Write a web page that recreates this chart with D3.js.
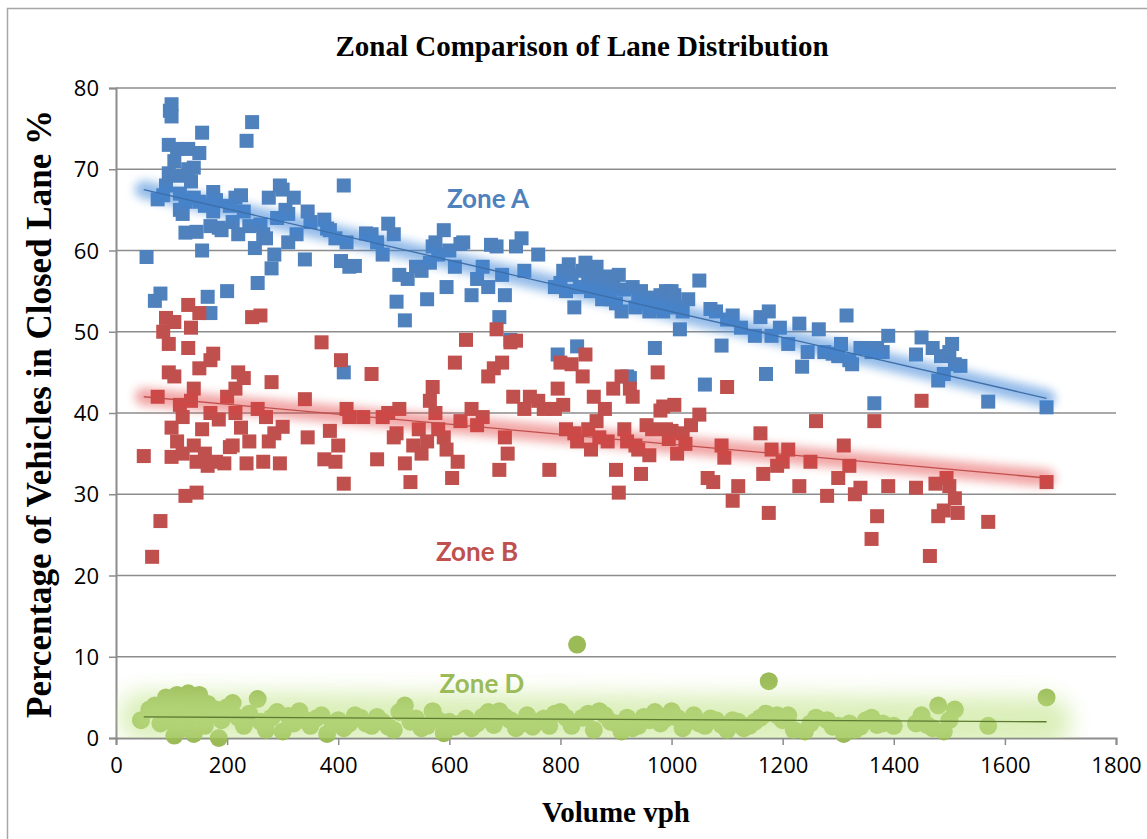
<!DOCTYPE html>
<html>
<head>
<meta charset="utf-8">
<script src="https://cdn.jsdelivr.net/npm/d3@7"></script>
<style>
  body { margin: 0; background: #fff; }
  svg { display: block; }
</style>
</head>
<body>
<svg width="1147" height="839"></svg>
<script>
const W = 1147, H = 839;
const margin = {left: 116, right: 31, top: 88, bottom: 101};

const xTicks = [0, 200, 400, 600, 800, 1000, 1200, 1400, 1600, 1800];
const yTicks = [0, 10, 20, 30, 40, 50, 60, 70, 80];

// Zone A (volume, %)
const zoneA = [
  [55,59.2],[70,53.8],[80,54.7],[75,66.3],[85,66.8],[90,68],[95,69.5],[95,73],[97,77.2],[100,78],[100,76.5],
  [105,71],[110,72.5],[110,69.2],[115,67],[115,65],[120,64.5],[125,66],[125,62.2],[130,70],[130,72.5],
  [135,68.5],[140,70.2],[140,66.5],[145,62.3],[150,72],[150,66],[155,74.5],[155,60],[160,65.5],[165,54.3],
  [170,52.3],[170,63],[175,67.2],[175,64.8],[180,66.2],[185,62.8],[190,62.5],[200,55],[205,65.5],[210,63.5],
  [215,66.5],[220,62],[225,66.8],[230,64.8],[235,73.5],[240,63],[245,75.8],[250,60.3],[255,56],[260,63.2],
  [265,62],[270,61.5],[275,66.5],[280,57.8],[285,59.5],[290,64],[295,68],[300,67.5],[305,65],[310,64.5],
  [310,61],[320,66.5],[325,62],[340,58.9],[345,64.8],[350,63.5],[375,63.8],[380,62.7],[385,62.5],[395,61.5],
  [405,58.7],[410,68],[410,45],[415,61],[420,58],[430,58.1],[450,62.1],[460,62],[470,61],[480,59.5],
  [490,63.3],[500,62],[505,53.7],[510,57],[520,51.4],[525,56.5],[540,58],[550,57.5],[560,54],[565,58.5],
  [570,60.5],[575,61],[580,59.5],[590,62.5],[595,55.5],[600,60],[610,58],[620,60.8],[625,61],[640,54.5],
  [650,56.5],[660,58],[670,55.5],[675,60.7],[685,60.5],[690,51.8],[695,57],[700,54.5],[710,49],[720,60.5],
  [730,61.5],[735,57.5],[760,59.5],[790,55.5],[795,47.2],[800,56],[805,57.5],[810,55],[815,58.3],[820,57],
  [825,53],[830,48.2],[835,55.5],[840,57.5],[845,58.5],[850,56.5],[855,55],[860,57.5],[865,58],[870,56.5],
  [875,54],[880,55.5],[885,56.8],[890,54],[895,55.5],[900,53.5],[905,57],[910,52.5],[915,55.2],[920,44.5],
  [925,44.3],[930,55.5],[935,53],[940,54.5],[945,55],[950,53.5],[955,54],[960,52.5],[965,54.2],[970,48],
  [975,53],[980,54.5],[985,52.5],[990,55],[995,53.5],[1000,55],[1005,54.5],[1010,53],[1015,50.3],[1020,52.5],
  [1030,54],[1050,56.3],[1060,43.5],[1070,52.8],[1080,52.5],[1090,48.3],[1100,51.5],[1110,52],[1125,50.5],
  [1150,49.5],[1160,51.8],[1170,44.8],[1175,52.5],[1180,49.5],[1195,50.5],[1210,48.5],[1230,51],[1235,45.7],
  [1245,47.5],[1265,50.3],[1275,47.5],[1290,47.3],[1300,47],[1305,48.5],[1315,52],[1320,46.5],[1325,46],
  [1340,48],[1350,48],[1360,47.5],[1365,41.2],[1370,48],[1380,47.5],[1390,49.5],[1440,47.2],[1450,49.3],
  [1470,48],[1480,44],[1485,47],[1490,44.8],[1500,47.5],[1505,48.5],[1510,46],[1520,45.8],[1570,41.4],[1675,40.7]
];

// Zone B (volume, %)
const zoneB = [
  [50,34.7],[65,22.3],[75,42],[80,26.7],[85,50],[90,51.7],[95,45],[95,48.5],[100,34.6],[100,38.2],[105,44.5],
  [105,51.2],[110,36.5],[115,41],[120,39.5],[120,35],[125,29.8],[130,53.3],[130,48],[135,50.5],[135,41.5],
  [140,43],[140,36],[145,30.2],[145,34],[150,52.3],[150,45.5],[155,38],[160,35],[165,33.5],[170,46.5],
  [170,40],[175,47.3],[180,34],[185,39.2],[195,33.8],[200,42],[205,35.8],[210,36],[215,43],[215,40],
  [220,45],[225,38.2],[230,44.3],[235,33.8],[240,36.5],[245,51.8],[255,40.5],[260,52],[265,34],[270,39.5],
  [275,36.5],[280,43.8],[285,37.5],[295,33.8],[300,38.3],[340,41.7],[345,37],[370,48.7],[375,34.3],
  [385,37.8],[395,34],[400,36],[405,46.5],[410,31.3],[415,40.5],[420,39.5],[445,39.5],[460,44.8],[470,34.3],
  [480,39.5],[490,40],[500,37],[505,37.5],[510,40.5],[520,33.8],[530,31.5],[535,36],[545,38],[550,35],
  [560,36.5],[565,41.5],[570,43.2],[575,40],[580,38],[590,37],[595,35.5],[605,32],[610,46.2],[615,34],
  [620,39],[630,49],[640,40.5],[650,38.5],[660,39.5],[670,44.5],[680,45.5],[685,50.3],[690,33],[695,46.2],
  [700,37],[705,35],[710,48.7],[715,42],[720,48.9],[735,40.5],[745,42],[760,41.5],[770,40.5],[780,33],
  [790,40.5],[795,43],[800,46.2],[805,41],[810,38],[820,46],[825,37.5],[830,36.5],[840,44.5],[845,47.2],
  [850,38],[855,35.5],[860,42],[865,39],[870,37],[880,40.5],[885,36.5],[895,43],[900,33],[905,30.2],
  [910,44.5],[915,38],[920,36.5],[925,43],[930,42],[935,36],[940,35.5],[945,32.5],[955,38.5],[960,34.8],
  [965,38],[975,45],[980,40.3],[985,40.8],[990,38],[995,36.8],[1000,37.8],[1005,41],[1010,35],[1020,37.5],
  [1025,36.2],[1035,38.5],[1050,39.8],[1065,32],[1075,31.5],[1090,36],[1095,34.5],[1100,43.2],[1110,29.2],
  [1120,31],[1160,37.5],[1165,32.5],[1175,27.7],[1180,35.5],[1190,33.5],[1200,34],[1210,35.5],[1230,31],
  [1250,34],[1260,39],[1280,29.8],[1300,32],[1310,36],[1320,33.5],[1330,30],[1340,30.8],[1360,24.5],
  [1365,39],[1370,27.3],[1390,31],[1440,30.8],[1450,41.5],[1465,22.4],[1475,31.3],[1480,27.3],[1490,28],
  [1495,32],[1500,31],[1510,29.5],[1515,27.7],[1570,26.6],[1675,31.5]
];

// Zone D (volume, %)
const zoneD = [
  [45,2.2],[60,3.5],[70,4],[80,1.8],[85,3],[90,5],[95,4.2],[100,2],[105,0.3],[110,5.3],[115,3],[120,1.2],
  [125,4.5],[130,5.5],[135,2.5],[140,0.5],[145,4],[150,5.3],[155,3.2],[160,1.5],[165,4.2],[170,2.8],
  [180,3.5],[185,0],[190,2.2],[200,3.8],[210,4.3],[220,2.5],[230,1.5],[240,3],[255,4.8],[260,2],[270,1],
  [280,2.5],[290,3.2],[300,0.8],[310,2.7],[320,1.8],[330,3.3],[340,2.2],[350,1.5],[360,2.4],[370,2.8],
  [380,0.5],[390,1.8],[400,2.2],[410,1.2],[420,1.8],[430,2.8],[440,2.5],[450,1.8],[460,1.5],[470,2.6],
  [480,2],[490,1.4],[500,1],[510,3.2],[520,4],[530,2],[540,2.4],[550,1.2],[560,1.5],[570,3.3],[580,2.2],
  [590,0.6],[600,2],[610,1.4],[620,1.8],[630,2.4],[640,1.2],[650,1.8],[660,2.6],[670,3.2],[680,1.6],
  [690,3.3],[700,2.6],[710,2.2],[720,1.2],[730,1.8],[740,2.8],[750,1.4],[760,2],[770,2.4],[780,1.5],
  [790,3],[800,3.2],[810,2.5],[820,1.5],[830,11.5],[840,2.5],[850,3],[860,1],[870,3.3],[880,2.8],[890,2],
  [900,1.8],[910,0.8],[920,2.5],[930,1.2],[940,1.5],[950,2.6],[960,2.2],[970,3.2],[980,1.8],[990,2.4],
  [1000,3.3],[1010,2.5],[1020,1.2],[1030,2],[1040,2.8],[1050,1.8],[1060,1.5],[1070,2.4],[1080,2.2],
  [1090,1.6],[1100,1],[1110,2.2],[1120,2],[1130,1.2],[1140,1.5],[1150,2],[1160,2.5],[1170,3],[1175,7],
  [1190,2.8],[1200,2.2],[1210,2.8],[1220,1],[1240,0.8],[1250,1.8],[1260,2.5],[1280,2.2],[1290,1.4],
  [1300,1.5],[1310,0.5],[1320,1.8],[1330,1],[1340,1.4],[1350,2.2],[1360,2.5],[1370,1.6],[1380,1.8],
  [1400,1.5],[1440,1.8],[1450,2.8],[1460,1.6],[1470,1.2],[1480,4],[1490,0.8],[1500,2.2],[1510,3.5],
  [1570,1.5],[1675,5]
];

// trendline end points
const trendA = [[50,67.5],[1675,41.8]];
const trendB = [[50,42.0],[1675,32.0]];
const trendD = [[50,2.6],[1675,2.0]];

const svg = d3.select('svg');

const x = d3.scaleLinear().domain([0, 1800]).range([margin.left, W - margin.right]);
const y = d3.scaleLinear().domain([0, 80]).range([H - margin.bottom, margin.top]);

const defs = svg.append('defs');
function blurFilter(id, sd) {
  defs.append('filter').attr('id', id)
    .attr('filterUnits', 'userSpaceOnUse')
    .attr('x', 0).attr('y', 0).attr('width', W).attr('height', H)
    .append('feGaussianBlur').attr('stdDeviation', sd);
}
blurFilter('glow', 5);
blurFilter('glowWide', 11);
defs.append('clipPath').attr('id', 'plotClip')
  .append('rect').attr('x', margin.left).attr('y', 0).attr('width', W).attr('height', y(0));

// outer chart border
svg.append('rect')
  .attr('x', 7.5).attr('y', 8.5).attr('width', 1300).attr('height', 1000)
  .attr('fill', 'none').attr('stroke', '#a6a6a6').attr('stroke-width', 1.5);

const serif = '"Liberation Serif", "Times New Roman", serif';

// title
svg.append('text')
  .attr('x', 582).attr('y', 56)
  .attr('text-anchor', 'middle')
  .style('font-family', serif)
  .style('font-weight', 'bold').style('font-size', '29px')
  .text('Zonal Comparison of Lane Distribution');

// gridlines
svg.append('g').selectAll('line').data(yTicks.filter(d => d > 0)).join('line')
  .attr('x1', x(0)).attr('x2', x(1800))
  .attr('y1', d => y(d)).attr('y2', d => y(d))
  .attr('stroke', '#8c8c8c').attr('stroke-width', 1.5);

// axes
const xAxis = svg.append('g')
  .attr('transform', `translate(0,${y(0)})`)
  .call(d3.axisBottom(x).tickValues(xTicks).tickSize(7).tickPadding(12).tickFormat(d3.format('d')));
const yAxis = svg.append('g')
  .attr('transform', `translate(${x(0)},0)`)
  .call(d3.axisLeft(y).tickValues(yTicks).tickSize(7).tickPadding(10));
[xAxis, yAxis].forEach(g => {
  g.select('.domain').attr('stroke', '#8c8c8c').attr('stroke-width', 2);
  g.selectAll('.tick line').attr('stroke', '#8c8c8c').attr('stroke-width', 1.5);
  g.selectAll('.tick text')
    .attr('fill', '#000')
    .style('font-family', '"Open Sans", "Liberation Sans", sans-serif')
    .style('font-size', '22px');
});
yAxis.selectAll('.tick text').attr('dy', '0.35em');

// axis titles
svg.append('text')
  .attr('x', 616).attr('y', 822)
  .attr('text-anchor', 'middle')
  .style('font-family', serif)
  .style('font-weight', 'bold').style('font-size', '29px')
  .text('Volume vph');
svg.append('text')
  .attr('transform', 'translate(51,414) rotate(-90)')
  .attr('text-anchor', 'middle')
  .style('font-family', serif)
  .style('font-weight', 'bold').style('font-size', '35px')
  .text('Percentage of Vehicles in Closed Lane %');

// markers
const sq = 14;
svg.append('g').selectAll('rect').data(zoneA).join('rect')
  .attr('x', d => x(d[0]) - sq / 2).attr('y', d => y(d[1]) - sq / 2)
  .attr('width', sq).attr('height', sq).attr('fill', '#4f81bd');
svg.append('g').selectAll('rect').data(zoneB).join('rect')
  .attr('x', d => x(d[0]) - sq / 2).attr('y', d => y(d[1]) - sq / 2)
  .attr('width', sq).attr('height', sq).attr('fill', '#c0504d');
svg.append('g').selectAll('circle').data(zoneD).join('circle')
  .attr('cx', d => x(d[0])).attr('cy', d => y(d[1]))
  .attr('r', 9).attr('fill', '#9bbb59');

// trendlines with soft glow
const line = d3.line().x(d => x(d[0])).y(d => y(d[1]));
function trend(data, glowColor, glowWidth, lineColor, filter, opacity) {
  svg.append('path').datum(data)
    .attr('d', line).attr('fill', 'none')
    .attr('stroke', glowColor).attr('stroke-width', glowWidth)
    .attr('stroke-linecap', 'round').attr('opacity', opacity)
    .attr('filter', `url(#${filter})`)
    .attr('clip-path', 'url(#plotClip)');
  svg.append('path').datum(data)
    .attr('d', line).attr('fill', 'none')
    .attr('stroke', lineColor).attr('stroke-width', 1.3);
}
trend(trendA, '#3d85d8', 18, '#3f6ea8', 'glow', 0.55);
trend(trendB, '#e23c3c', 18, '#c0504d', 'glow', 0.45);
trend(trendD, '#c2e48a', 50, '#5e7a32', 'glowWide', 0.6);

// zone labels
const zoneLabels = [
  {text: 'Zone A', x: 488, y: 208, color: '#4f81bd'},
  {text: 'Zone B', x: 477, y: 561, color: '#c0504d'},
  {text: 'Zone D', x: 482, y: 693, color: '#9bbb59'}
];
svg.append('g').selectAll('text').data(zoneLabels).join('text')
  .attr('x', d => d.x).attr('y', d => d.y)
  .attr('text-anchor', 'middle')
  .attr('fill', d => d.color)
  .style('font-family', 'Lato, "Open Sans", sans-serif')
  .style('font-weight', 'bold').style('font-size', '26px')
  .text(d => d.text);
</script>
</body>
</html>
